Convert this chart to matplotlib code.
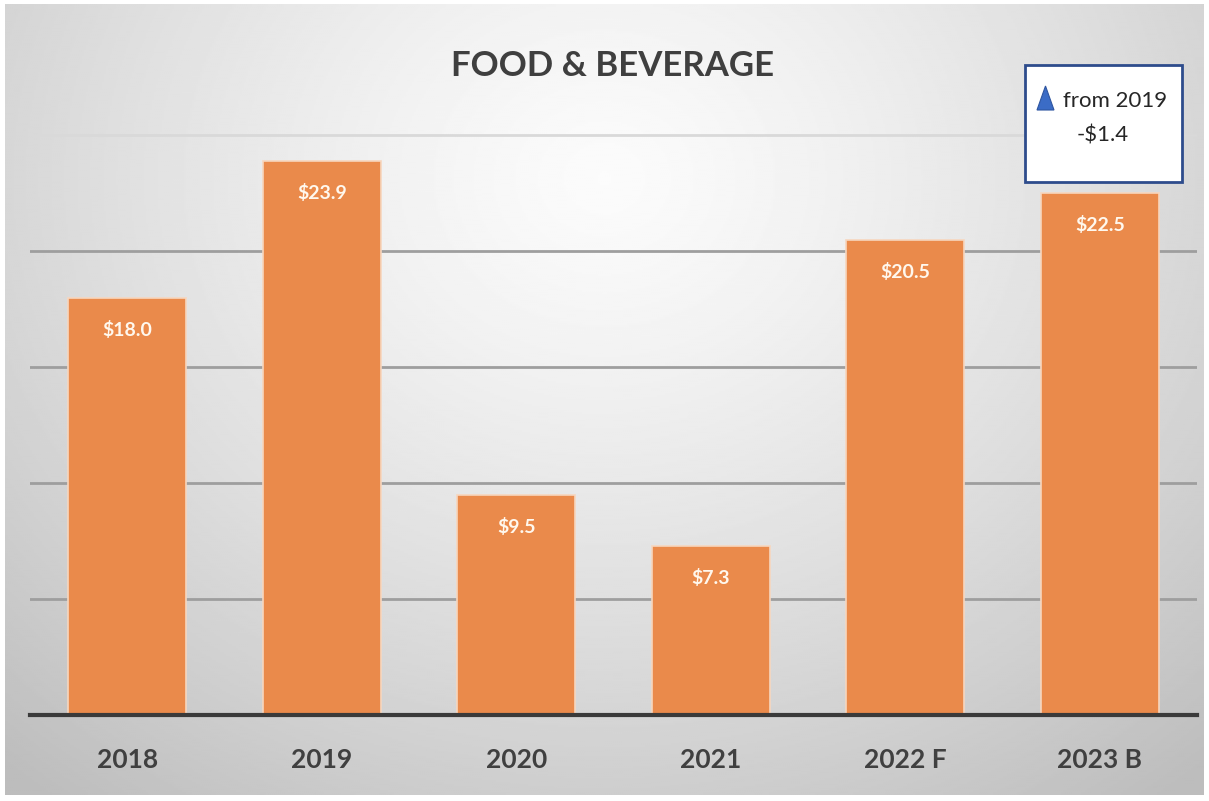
"""
Food & beverage revenue bar chart with budget note.
"""

import matplotlib
matplotlib.use("Agg")
import matplotlib.pyplot as plt
import numpy as np
from matplotlib.patches import Polygon, Rectangle

years = ["2018", "2019", "2020", "2021", "2022 F", "2023 B"]
revenue = [18.0, 23.9, 9.5, 7.3, 20.5, 22.5]
value_labels = ["$18.0", "$23.9", "$9.5", "$7.3", "$20.5", "$22.5"]
grid_levels = [5, 10, 15, 20, 25]
note_lines = ["from 2019", "-$1.4"]

plt.rcParams['font.family'] = ['Lato', 'DejaVu Sans']

fig = plt.figure(figsize=(12.09, 8.01), dpi=100)
fig.patch.set_facecolor('white')

# radial grey backdrop, light at the top middle
bg = fig.add_axes([5 / 1209, 6 / 801, 1 - 10 / 1209, 1 - 10 / 801])
yy, xx = np.mgrid[0:1:400j, 0:1:600j]
r = np.sqrt(((xx - 0.5) / 0.72) ** 2 + ((yy - 0.22) / 0.95) ** 2)
shade = np.clip(0.985 - 0.23 * r ** 1.3, 0.74, 0.99)
bg.imshow(shade, cmap='gray', vmin=0, vmax=1, aspect='auto',
          extent=[0, 1, 1, 0], interpolation='bilinear')
bg.set_axis_off()

# 0 sits at y=715px, 25 at y=135px
ax = fig.add_axes([30 / 1209, 86 / 801, 1167 / 1209, 603 / 801])
ax.patch.set_alpha(0)
x = np.arange(len(years))
bars = ax.bar(x, revenue, width=0.607, color='#EA8A4B',
              edgecolor='#F7D6BE', linewidth=1.2, zorder=3)
ax.set_xlim(-0.5, len(years) - 0.5)
ax.set_ylim(0, 26)
for lvl in grid_levels:
    gc = '#D9D9D9' if lvl == grid_levels[-1] else '#9E9E9E'
    ax.axhline(lvl, color=gc, linewidth=2, zorder=1)
ax.set_yticks([])
ax.tick_params(axis='x', length=0, pad=24, labelsize=19, labelcolor='#404040')
ax.set_xticks(x)
ax.set_xticklabels(years, fontweight='bold')
for side in ['top', 'right', 'left']:
    ax.spines[side].set_visible(False)
ax.spines['bottom'].set_color('#3A3A3A')
ax.spines['bottom'].set_linewidth(3)
ax.spines['bottom'].set_zorder(4)

for b, lbl in zip(bars, value_labels):
    ax.annotate(lbl, (b.get_x() + b.get_width() / 2, b.get_height()),
                xytext=(0, -32), textcoords='offset pixels',
                ha='center', va='center', color='#FFF8EE',
                fontsize=14, fontweight='bold', zorder=5)

fig.text(613 / 1209, 1 - 66 / 801, "FOOD & BEVERAGE", ha='center', va='center',
         fontsize=25, fontweight='bold', color='#3F3F3F')

# note box in the top right corner
fig.patches.append(Rectangle((1025 / 1209, 1 - 182 / 801), 157 / 1209, 117 / 801,
                             transform=fig.transFigure, facecolor='white',
                             edgecolor='#2E4C8C', linewidth=2, zorder=5))
fig.patches.append(Polygon([(1037 / 1209, 1 - 110 / 801), (1054 / 1209, 1 - 110 / 801),
                            (1045.5 / 1209, 1 - 86 / 801)],
                           closed=True, transform=fig.transFigure,
                           facecolor='#3B6CC6', edgecolor='#2E55A0', linewidth=0.8, zorder=6))
fig.text(1063 / 1209, 1 - 101 / 801, note_lines[0], ha='left', va='center',
         fontsize=16, color='#262626', zorder=7)
fig.text(1103 / 1209, 1 - 136 / 801, note_lines[1], ha='center', va='center',
         fontsize=16, color='#262626', zorder=7)

fig.savefig("out.png", dpi=100)
